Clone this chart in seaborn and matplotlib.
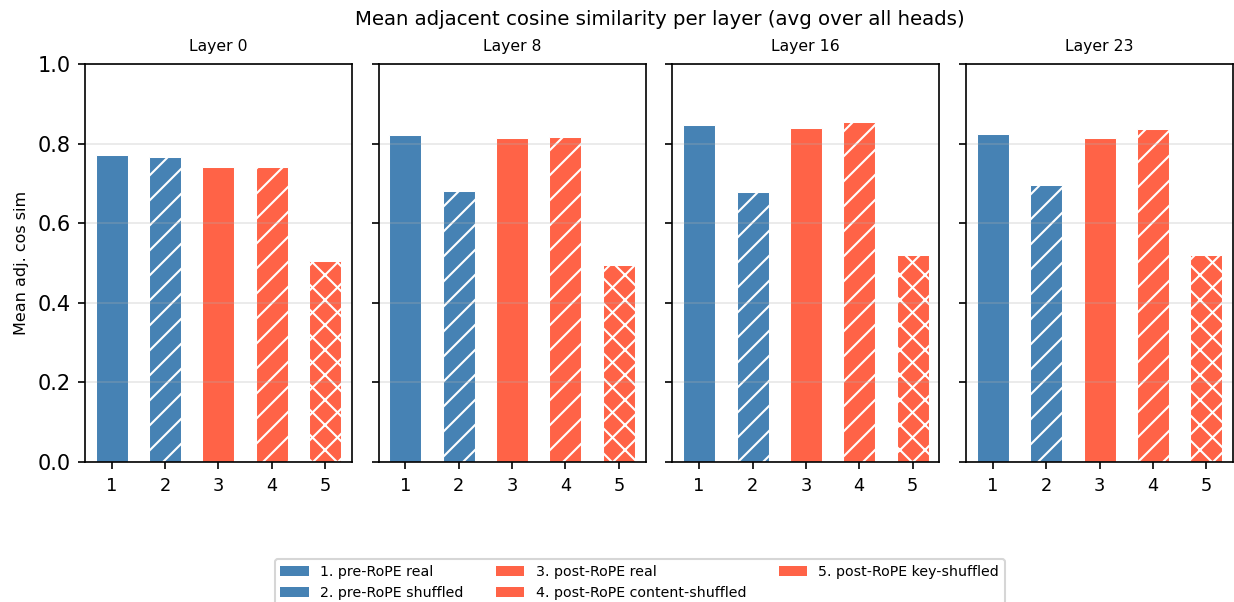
#!/usr/bin/env python3
# -*- coding: utf-8 -*-
# description: mean adjacent cosine similarity per layer, pre/post RoPE
import pandas as pd
import matplotlib
matplotlib.use("Agg")
import matplotlib.pyplot as plt
import matplotlib.patches as mpatches
import seaborn as sns

###############################################################
#                 Data
###############################################################

layers = ["Layer 0", "Layer 8", "Layer 16", "Layer 23"]
conditions = ["1", "2", "3", "4", "5"]
condition_labels = [
    "1. pre-RoPE real",
    "2. pre-RoPE shuffled",
    "3. post-RoPE real",
    "4. post-RoPE content-shuffled",
    "5. post-RoPE key-shuffled",
]
layer0_vals = [0.771, 0.767, 0.742, 0.740, 0.505]
layer8_vals = [0.822, 0.681, 0.814, 0.817, 0.496]
layer16_vals = [0.847, 0.678, 0.839, 0.854, 0.519]
layer23_vals = [0.824, 0.696, 0.814, 0.836, 0.521]

colors = ["steelblue", "steelblue", "tomato", "tomato", "tomato"]
hatches = ["", "//", "", "//", "xx"]

###############################################################
#                 Plot
###############################################################

df = pd.DataFrame({
    "layer": [l for l in layers for _ in conditions],
    "cond": conditions * len(layers),
    "value": layer0_vals + layer8_vals + layer16_vals + layer23_vals,
})

plt.rcParams["hatch.color"] = "white"
plt.rcParams["hatch.linewidth"] = 1.0

fig, axs = plt.subplots(1, 4, figsize=(1235 / 150, 602 / 150), dpi=150, sharey=True)
fig.subplots_adjust(left=0.0688, right=0.9984, top=0.8937, bottom=0.2326, wspace=0.101)

for i, layer in enumerate(layers):
    ax = axs[i]
    sub = df[df["layer"] == layer]
    sns.barplot(data=sub, x="cond", y="value", hue="cond", palette=colors,
                saturation=1, legend=False, width=0.6, edgecolor="white",
                linewidth=0.5, ax=ax)
    for patch, h in zip(ax.patches, hatches):
        patch.set_hatch(h)
    ax.set_title(layer, fontsize=7.5)
    ax.set_xlabel("")
    ax.set_ylim(0, 1.0)
    ax.grid(axis="y", alpha=0.3)
    ax.tick_params(axis="x", labelsize=8.5)
    ax.tick_params(axis="y", labelsize=10)
    if i == 0:
        ax.set_ylabel("Mean adj. cos sim", fontsize=7.7)
    else:
        ax.set_ylabel("")

fig.suptitle("Mean adjacent cosine similarity per layer (avg over all heads)",
             fontsize=9.5, x=0.534, y=0.967, va="center")

handles = [mpatches.Patch(facecolor=c, label=l) for c, l in zip(colors, condition_labels)]
fig.legend(handles=handles, loc="upper center", bbox_to_anchor=(0.518, 0.083),
           ncol=3, fontsize=6.8, columnspacing=2.3)

plt.savefig("out.png", dpi=150)
